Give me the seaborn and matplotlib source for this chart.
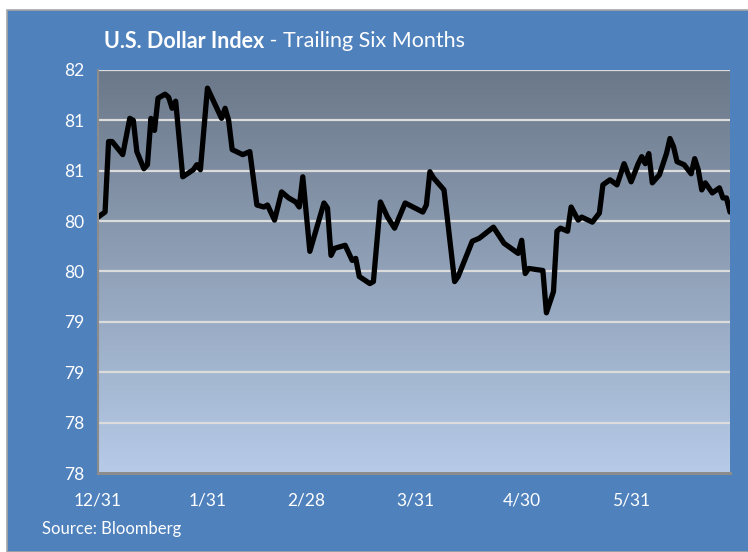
import matplotlib
matplotlib.use("Agg")
import matplotlib.pyplot as plt
from matplotlib.patches import Rectangle
from matplotlib.colors import LinearSegmentedColormap
import numpy as np
import pandas as pd
import seaborn as sns

# ---------------- data ----------------
dates = [
    "2013-12-31", "2014-01-02", "2014-01-03", "2014-01-04", "2014-01-07", "2014-01-09",
    "2014-01-10", "2014-01-11", "2014-01-13", "2014-01-14", "2014-01-15", "2014-01-16",
    "2014-01-17", "2014-01-19", "2014-01-20", "2014-01-21", "2014-01-22", "2014-01-24",
    "2014-01-27", "2014-01-28", "2014-01-29", "2014-01-31", "2014-02-02", "2014-02-04",
    "2014-02-05", "2014-02-06", "2014-02-07", "2014-02-10", "2014-02-12", "2014-02-14",
    "2014-02-16", "2014-02-17", "2014-02-19", "2014-02-21", "2014-02-23", "2014-02-25",
    "2014-02-26", "2014-02-27", "2014-03-01", "2014-03-05", "2014-03-06", "2014-03-07",
    "2014-03-08", "2014-03-11", "2014-03-13", "2014-03-14", "2014-03-15", "2014-03-18",
    "2014-03-19", "2014-03-21", "2014-03-23", "2014-03-25", "2014-03-28", "2014-04-02",
    "2014-04-03", "2014-04-04", "2014-04-05", "2014-04-08", "2014-04-09", "2014-04-11",
    "2014-04-12", "2014-04-16", "2014-04-18", "2014-04-22", "2014-04-25", "2014-04-29",
    "2014-04-30", "2014-05-01", "2014-05-02", "2014-05-06", "2014-05-07", "2014-05-09",
    "2014-05-10", "2014-05-11", "2014-05-13", "2014-05-14", "2014-05-16", "2014-05-17",
    "2014-05-20", "2014-05-22", "2014-05-23", "2014-05-25", "2014-05-27", "2014-05-29",
    "2014-05-31", "2014-06-02", "2014-06-03", "2014-06-04", "2014-06-05", "2014-06-06",
    "2014-06-08", "2014-06-10", "2014-06-11", "2014-06-12", "2014-06-13", "2014-06-15",
    "2014-06-17", "2014-06-18", "2014-06-19", "2014-06-20", "2014-06-21", "2014-06-23",
    "2014-06-25", "2014-06-26", "2014-06-27", "2014-06-28",
]
index_values = [
    80.19, 80.24, 80.94, 80.94, 80.81, 81.17,
    81.15, 80.84, 80.67, 80.71, 81.17, 81.05,
    81.37, 81.41, 81.38, 81.27, 81.34, 80.59,
    80.66, 80.71, 80.66, 81.47, 81.32, 81.17,
    81.27, 81.15, 80.86, 80.81, 80.84, 80.31,
    80.29, 80.31, 80.16, 80.44, 80.38, 80.34,
    80.29, 80.59, 79.85, 80.33, 80.28, 79.81,
    79.88, 79.91, 79.76, 79.78, 79.60, 79.53,
    79.55, 80.34, 80.19, 80.08, 80.33, 80.24,
    80.31, 80.64, 80.58, 80.46, 80.16, 79.55,
    79.60, 79.95, 79.98, 80.09, 79.93, 79.83,
    79.96, 79.63, 79.68, 79.66, 79.24, 79.45,
    80.05, 80.08, 80.05, 80.29, 80.16, 80.19,
    80.14, 80.23, 80.51, 80.56, 80.51, 80.72,
    80.54, 80.72, 80.79, 80.72, 80.82, 80.53,
    80.61, 80.82, 80.97, 80.89, 80.74, 80.71,
    80.62, 80.77, 80.66, 80.46, 80.53, 80.43,
    80.48, 80.38, 80.38, 80.24,
]
x_tick_dates = ["2013-12-31", "2014-01-31", "2014-02-28", "2014-03-31", "2014-04-30", "2014-05-31"]
x_tick_labels = ["12/31", "1/31", "2/28", "3/31", "4/30", "5/31"]
y_ticks = [77.65, 78.15, 78.65, 79.15, 79.65, 80.15, 80.65, 81.15, 81.65]
y_tick_labels = ["78", "78", "79", "79", "80", "80", "81", "81", "82"]

df = pd.DataFrame({"date": pd.to_datetime(dates), "value": index_values})

# ---------------- style ----------------
sns.set_theme(style="white")
plt.rcParams["font.family"] = ["Lato", "DejaVu Sans"]

PANEL = "#4F81BD"
W, H = 748, 552
fig = plt.figure(figsize=(W / 100, H / 100), dpi=100)
fig.patch.set_facecolor("white")

# blue panel with thin grey border
panel = Rectangle((6.5 / W, 0), 1 - 6.5 / W + 0.01, 1 - 9.5 / H,
                  transform=fig.transFigure, facecolor=PANEL,
                  edgecolor="#A6A6A6", linewidth=1.2, zorder=-10)
fig.patches.append(panel)

left, right, top, bottom = 98, 730, 70, 473
ax = fig.add_axes([left / W, (H - bottom) / H, (right - left) / W, (bottom - top) / H])
ax.set_zorder(5)

# gradient plot background
cmap = LinearSegmentedColormap.from_list("bg", ["#B6CBE8", "#6B7889"])
grad = np.linspace(0, 1, 256).reshape(-1, 1)
ax.imshow(grad, aspect="auto", cmap=cmap, origin="lower",
          extent=[0, 1, 0, 1], transform=ax.transAxes, zorder=0)

sns.lineplot(data=df, x="date", y="value", ax=ax, color="black",
             linewidth=3.8, zorder=5)
for ln in ax.get_lines():
    ln.set_solid_joinstyle("round")
    ln.set_solid_capstyle("round")

ax.set_xlim(df["date"].iloc[0], df["date"].iloc[-1])
ax.set_ylim(y_ticks[0], y_ticks[-1])
ax.set_yticks(y_ticks)
ax.set_yticklabels(y_tick_labels)
ax.set_xticks(pd.to_datetime(x_tick_dates))
ax.set_xticklabels(x_tick_labels)
ax.set_xlabel("")
ax.set_ylabel("")

ax.grid(axis="y", color="#DCDCDC", linewidth=1.6)
ax.grid(axis="x", visible=False)
ax.set_axisbelow(False)
for gl in ax.get_ygridlines():
    gl.set_zorder(1)

for s in ["top", "right"]:
    ax.spines[s].set_visible(False)
ax.spines["left"].set_color("#8C8C8C")
ax.spines["left"].set_linewidth(1.5)
ax.spines["bottom"].set_color("#8C8C8C")
ax.spines["bottom"].set_linewidth(2.2)
ax.spines["left"].set_zorder(6)
ax.spines["bottom"].set_zorder(6)

ax.tick_params(axis="both", which="both", direction="out", colors="#8C8C8C",
               labelcolor="white", labelsize=12.5, width=1.5)
ax.tick_params(axis="y", length=6, pad=4)
ax.tick_params(axis="x", length=5, pad=9)

# title: bold part + regular part
t1 = fig.text(104 / W, 1 - 41 / H, "U.S. Dollar Index", color="white",
              fontsize=15.5, fontweight="bold", va="center", ha="left")
fig.canvas.draw()
bb = t1.get_window_extent(renderer=fig.canvas.get_renderer())
fig.text(bb.x1 / W, 1 - 41 / H, " - Trailing Six Months", color="white",
         fontsize=15.5, va="center", ha="left")

fig.text(42 / W, 1 - 529 / H, "Source: Bloomberg", color="white",
         fontsize=12, va="center", ha="left")

fig.savefig("out.png", dpi=100, facecolor=fig.get_facecolor())
